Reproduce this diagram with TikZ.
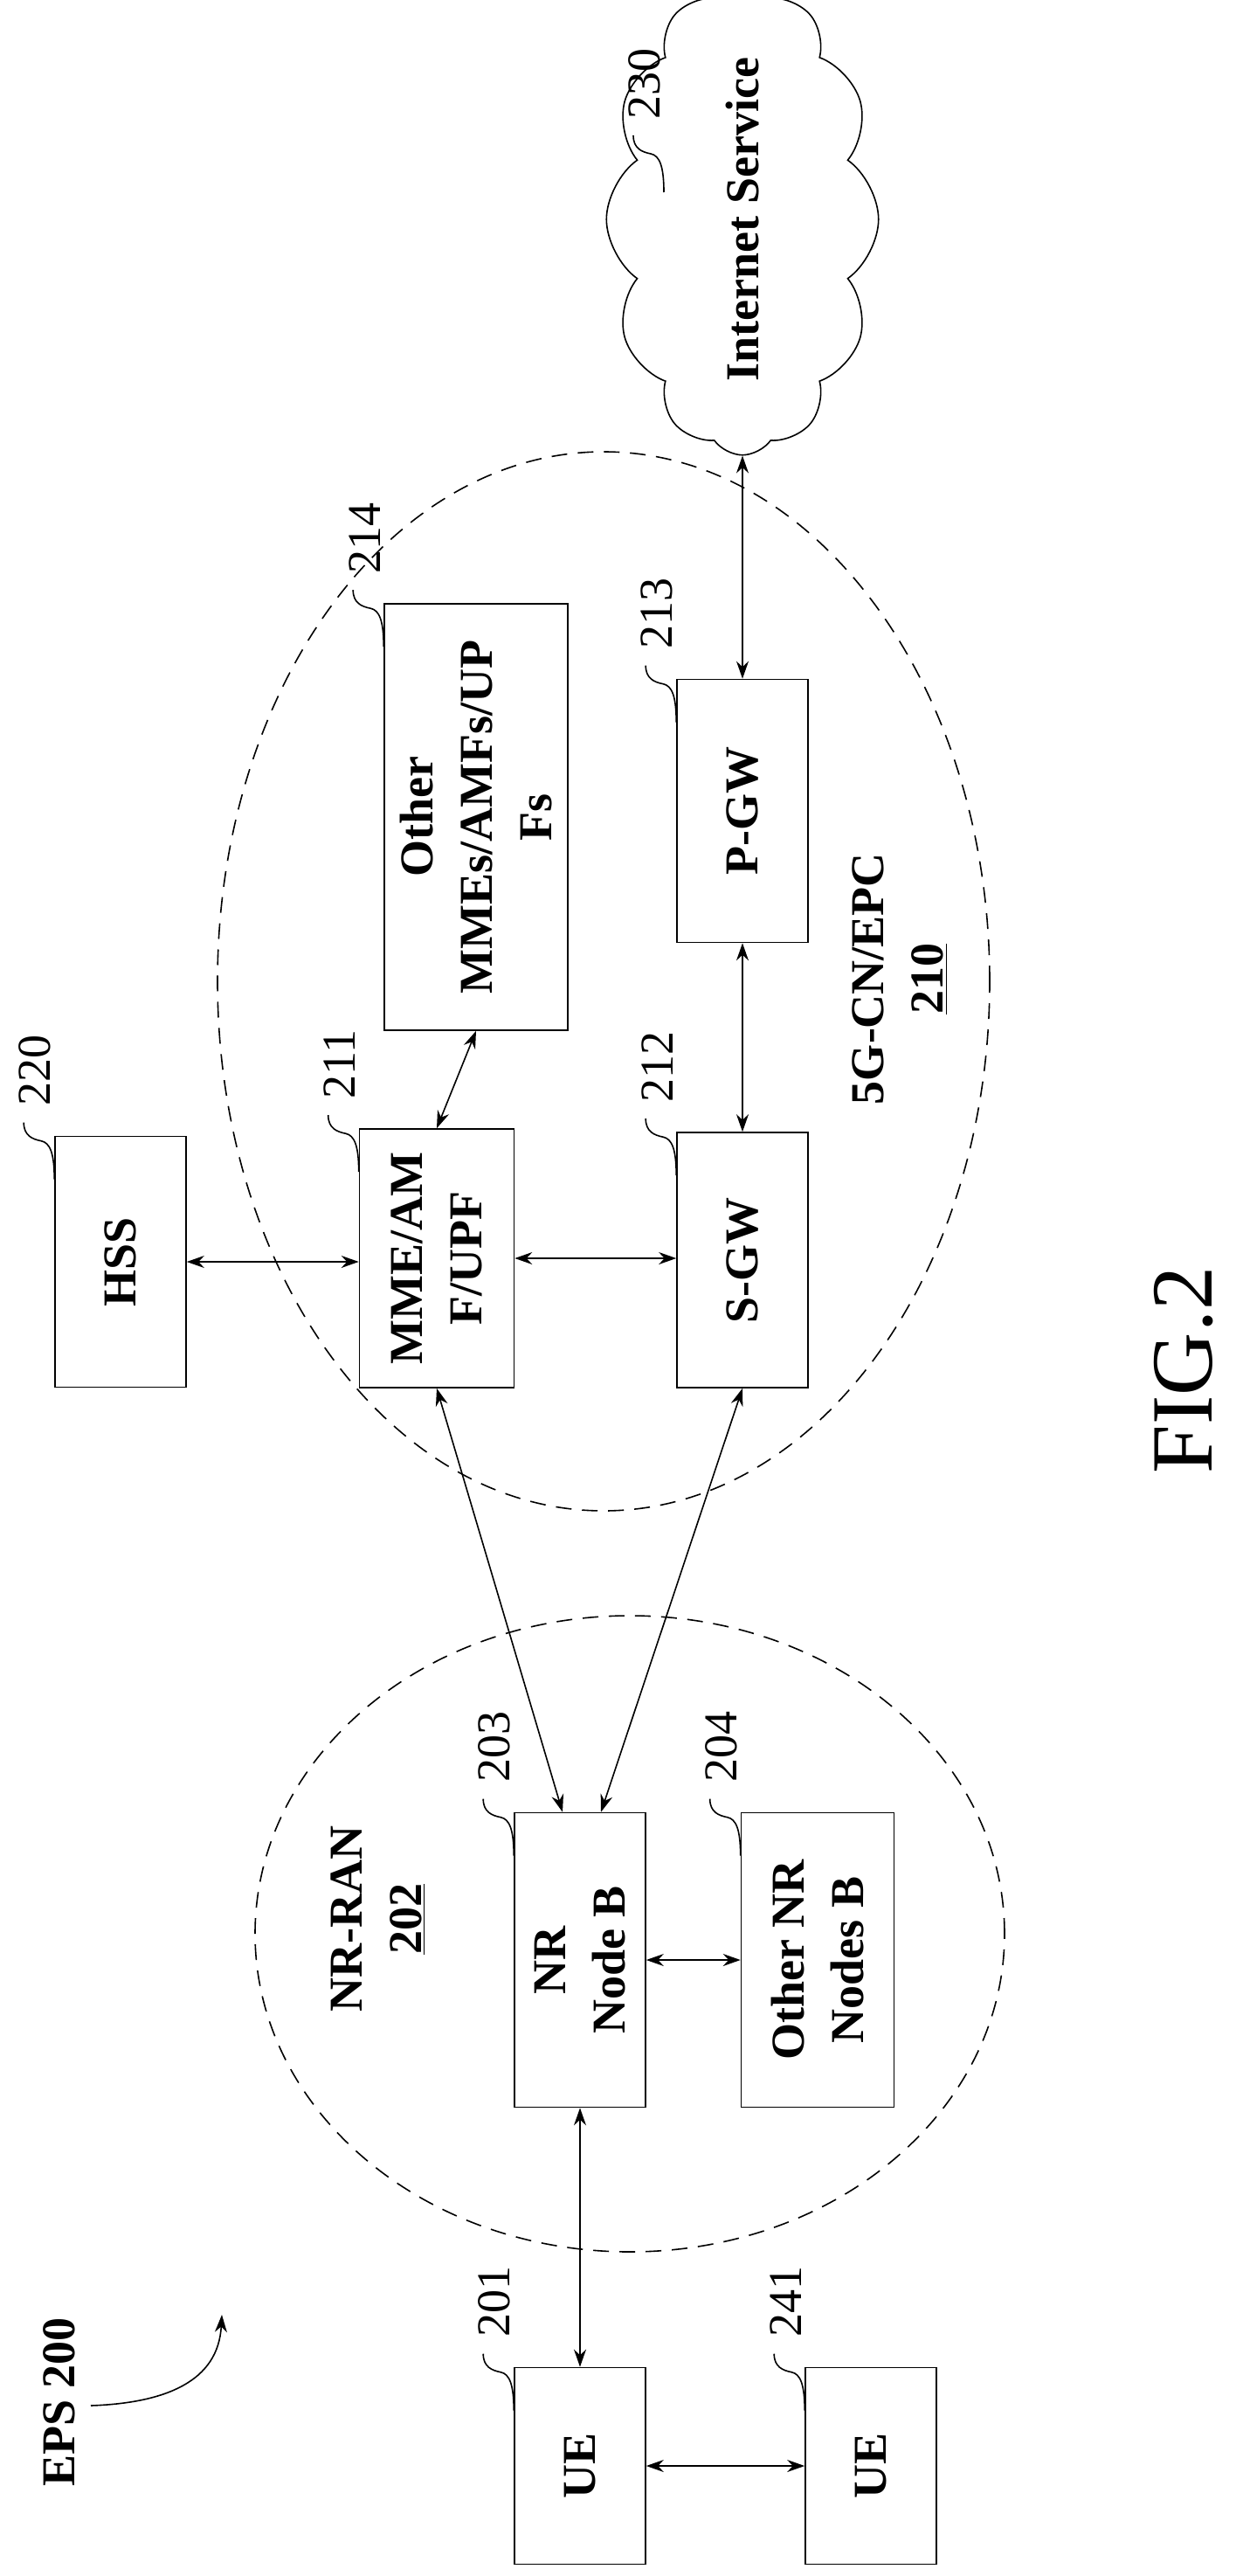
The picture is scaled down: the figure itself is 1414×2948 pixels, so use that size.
\documentclass[tikz,border=0pt]{standalone}
\usepackage{fontspec}
\setmainfont{Liberation Serif}
\usetikzlibrary{arrows.meta,shapes.symbols}
\tikzset{
  box/.style={draw, line width=0.8pt, rotate=90, align=center, inner sep=2pt,
    font=\bfseries\fontsize{27}{34}\selectfont},
  num/.style={rotate=90, inner sep=0pt, font=\fontsize{27}{30}\selectfont},
  lead/.style={line width=0.8pt},
  link/.style={line width=0.8pt, {Stealth[length=10pt,width=7pt]}-{Stealth[length=10pt,width=7pt]}},
  region/.style={dashed, line width=0.8pt, dash pattern=on 9pt off 6pt},
}
% reference mark: squiggle at a box corner and its number
\newcommand\callout[2]{%
  \draw[lead] (#1) ++(0,50) .. controls +(0,-30) and +(10,2) .. ++(-15,-44)
    .. controls +(-10,-2) and +(0,15) .. ++(-20,-21)
    ++(13,-18) node[num, anchor=west] {#2};}
\begin{document}
\begin{tikzpicture}[x=0.5pt, y=-0.5pt]
    \useasboundingbox (0,0) rectangle (1414,2948);

    % Regions
    \draw[region] (691,1123) ellipse [x radius=221pt, y radius=303pt];
    \draw[region] (721,2213) ellipse [x radius=214.5pt, y radius=182pt];
    \node[num, font=\bfseries\fontsize{27}{34}\selectfont, align=center] (ranlbl) at (433,2196) {NR-RAN\\\underline{202}};
    \node[num, font=\bfseries\fontsize{27}{34}\selectfont, align=center] (cnlbl) at (1030,1120) {5G-CN/EPC\\\underline{210}};

    % Radio side
    \node[box, minimum width=112.5pt, minimum height=75pt] (ue1) at (664,2822) {UE};
    \node[box, minimum width=112.5pt, minimum height=75pt] (ue2) at (997,2822) {UE};
    \node[box, minimum width=168.5pt, minimum height=75pt] (nrb) at (664,2243) {NR\\Node B};
    \node[box, minimum width=168.5pt, minimum height=87.5pt] (onrb) at (936,2243) {Other NR\\Nodes B};

    % Core side
    \node[box, minimum width=143.5pt, minimum height=75pt] (hss) at (138,1444) {HSS};
    \node[box, minimum width=148pt, minimum height=88.5pt] (mme) at (500,1440) {MME/AM\\F/UPF};
    \node[box, minimum width=146pt, minimum height=75pt] (sgw) at (850,1442) {S-GW};
    \node[box, minimum width=244pt, minimum height=105pt] (omme) at (545,935) {Other\\MMEs/AMFs/UP\\Fs};
    \node[box, minimum width=150.5pt, minimum height=75pt] (pgw) at (850,928) {P-GW};
    \node[cloud, draw, line width=0.8pt, rotate=90, cloud puffs=12, cloud puff arc=110, aspect=2.1,
          minimum width=228pt, minimum height=107pt, inner sep=0pt,
          font=\bfseries\fontsize{27}{34}\selectfont] (inet) at (850,251) {Internet Service};

    % Reference marks
    \callout{ue1.north east}{201}
    \callout{ue2.north east}{241}
    \callout{nrb.north east}{203}
    \callout{onrb.north east}{204}
    \callout{hss.north east}{220}
    \callout{mme.north east}{211}
    \callout{sgw.north east}{212}
    \callout{omme.north east}{214}
    \callout{pgw.north east}{213}
    \coordinate (inetmark) at (760,170);
    \callout{inetmark}{230}

    % Labels
    \node[num, font=\bfseries\fontsize{27}{34}\selectfont] (eps) at (68,2749) {EPS 200};
    \node[num, font=\fontsize{50}{60}\selectfont] (fig) at (1355,1568) {FIG.2};
    \coordinate (epsa) at (104,2753);
    \coordinate (epsb) at (254,2649);
    \draw[line width=0.8pt, -{Stealth[length=10pt,width=7pt]}] (epsa) .. controls (190,2750) and (250,2725) .. (epsb);

    % Connections
    \draw[link] (ue1.south) -- (ue2.north);
    \draw[link] (nrb.west) -- (ue1.east);
    \draw[link] (nrb.south) -- (onrb.north);
    \draw[link] (mme.west) -- ([xshift=-10pt]nrb.east);
    \draw[link] (sgw.west) -- ([xshift=12pt]nrb.east);
    \draw[link] (hss.south) -- (hss.south -| mme.north);
    \draw[link] (mme.south) -- (mme.south -| sgw.north);
    \draw[link] (mme.east) -- (omme.west);
    \draw[link] (sgw.east) -- (pgw.west);
    \draw[link] (pgw.east) -- (pgw.east |- inet.west);
\end{tikzpicture}
\end{document}
